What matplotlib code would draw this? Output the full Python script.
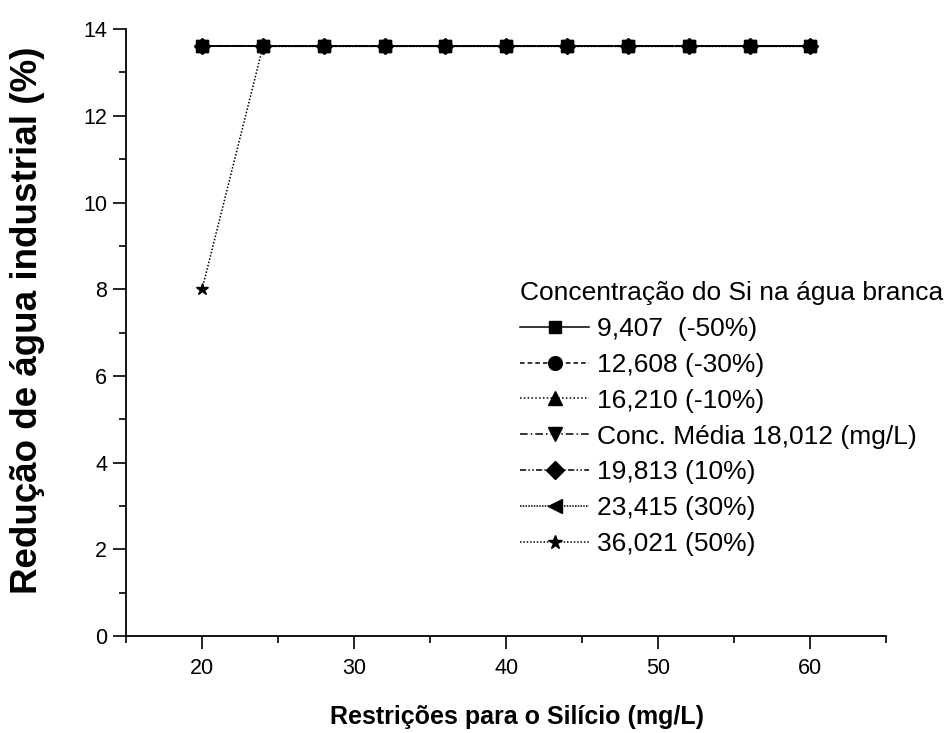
import matplotlib
matplotlib.use("Agg")
import matplotlib.pyplot as plt
from matplotlib.ticker import MultipleLocator

plt.rcParams['font.family'] = ['Liberation Sans', 'DejaVu Sans']

# restriction values for silicon (mg/L)
restricoes = [20, 24, 28, 32, 36, 40, 44, 48, 52, 56, 60]

# water reduction (%) for each Si concentration scenario
red_m50 = [13.6] * 11
red_m30 = [13.6] * 11
red_m10 = [13.6] * 11
red_media = [13.6] * 11
red_p10 = [13.6] * 11
red_p30 = [13.6] * 11
red_p50 = [8.0] + [13.6] * 10

series_labels = [
    "9,407  (-50%)",
    "12,608 (-30%)",
    "16,210 (-10%)",
    "Conc. Média 18,012 (mg/L)",
    "19,813 (10%)",
    "23,415 (30%)",
    "36,021 (50%)",
]

series = [red_m50, red_m30, red_m10, red_media, red_p10, red_p30, red_p50]
markers = ['s', 'o', '^', 'v', 'D', '<', '*']
styles = ['-', (0, (3, 2)), (0, (1, 1.5)), (0, (5, 2, 1, 2)),
          (0, (4, 1.5, 1, 1.5, 1, 1.5)), (0, (1, 0.8)), (0, (1, 1.2))]
sizes = [8, 9, 9, 9, 8, 9, 9]

fig = plt.figure(figsize=(9.48, 7.33), dpi=100)
ax = fig.add_axes([0.133, 0.1323, 0.802, 0.828])

for y, lab, m, ls, ms in zip(series, series_labels, markers, styles, sizes):
    ax.plot(restricoes, y, color='black', linestyle=ls, linewidth=1.1,
            marker=m, markersize=ms, label=lab)

ax.set_xlim(15, 65)
ax.set_ylim(0, 14)
ax.xaxis.set_major_locator(MultipleLocator(10))
ax.xaxis.set_minor_locator(MultipleLocator(5))
ax.yaxis.set_major_locator(MultipleLocator(2))
ax.yaxis.set_minor_locator(MultipleLocator(1))

for side in ['top', 'right']:
    ax.spines[side].set_visible(False)
for side in ['left', 'bottom']:
    ax.spines[side].set_linewidth(1.3)

ax.tick_params(which='major', direction='out', length=9.5, width=1.2, labelsize=15.5)
ax.tick_params(axis='x', which='major', pad=6)
ax.tick_params(axis='y', which='major', pad=4)
ax.tick_params(which='minor', direction='out', length=5, width=1.2)

ax.set_xlabel('Restrições para o Silício (mg/L)', fontsize=18, fontweight='bold')
ax.xaxis.set_label_coords(0.514, -0.113)
ax.set_ylabel('Redução de água industrial (%)', fontsize=26.5, fontweight='bold')
ax.yaxis.set_label_coords(-0.107, 0.52)

leg = ax.legend(title='Concentração do Si na água branca', loc='upper left',
                bbox_to_anchor=(0.508, 0.598), frameon=False, fontsize=19,
                title_fontsize=19, handlelength=2.6, handletextpad=0.3,
                labelspacing=0.45, borderaxespad=0, borderpad=0.3, markerscale=1.1)
leg._legend_box.align = 'left'

fig.savefig('out.png', dpi=100)
